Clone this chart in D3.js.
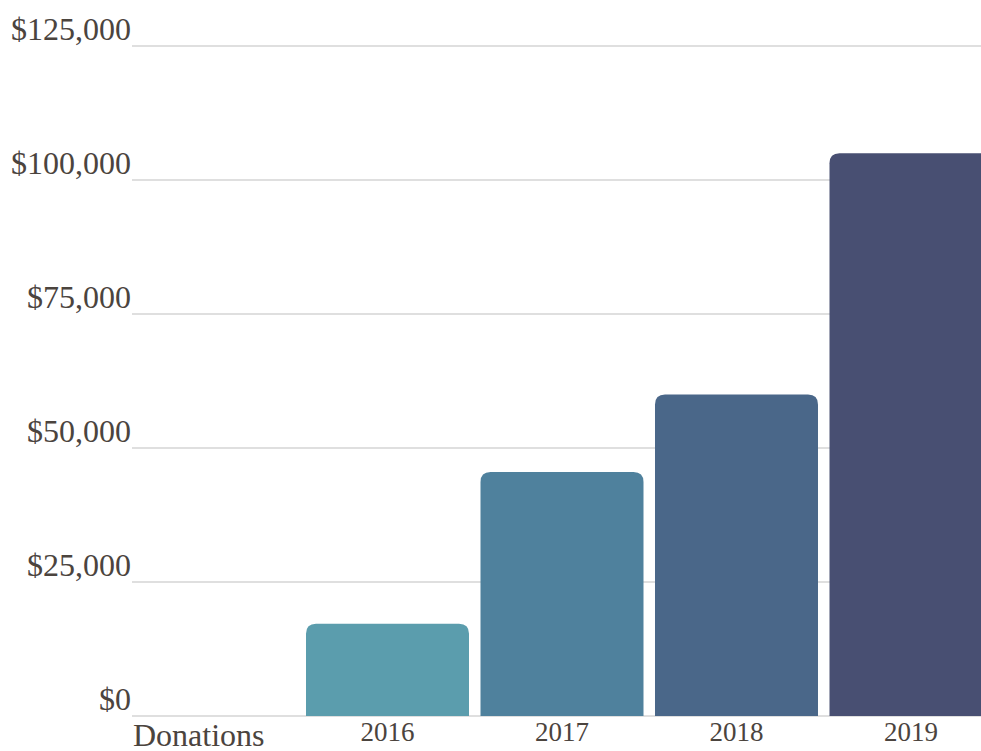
<!DOCTYPE html>
<html>
<head>
<meta charset="utf-8">
<script src="https://cdn.jsdelivr.net/npm/d3@7"></script>
<style>
  body { margin: 0; background: #fff; }
  svg { display: block; font-family: "Liberation Serif", "DejaVu Serif", serif; }
</style>
</head>
<body>
<svg id="chart" width="981" height="751"></svg>
<script>
// data
var years = ['2016', '2017', '2018', '2019'];
var donations = [17200, 45500, 60000, 105000];
var colors = ['#5b9dad', '#4f819d', '#4a6789', '#484f72'];
var yTicks = [0, 25000, 50000, 75000, 100000, 125000];
var title = 'Donations';

var svg = d3.select('#chart');
var textColor = '#4b443e';

var x = d3.scaleBand()
    .domain([title].concat(years))
    .range([125.75, 998.25])
    .paddingInner(0.0659)
    .paddingOuter(0.033);

var y = d3.scaleLinear().domain([0, 125000]).range([716, 46]);

var fmt = function(v) { return '$' + d3.format(',')(v); };

// grid lines
svg.append('g')
  .selectAll('line')
  .data(yTicks)
  .join('line')
    .attr('x1', 132)
    .attr('x2', 981)
    .attr('y1', d => y(d))
    .attr('y2', d => y(d))
    .attr('stroke', '#d4d4d4')
    .attr('stroke-width', 1.5);

// y labels
svg.append('g')
  .selectAll('text')
  .data(yTicks)
  .join('text')
    .attr('x', 131)
    .attr('y', d => y(d) - 6)
    .attr('text-anchor', 'end')
    .attr('fill', textColor)
    .attr('font-size', 32)
    .text(fmt);

// bars with rounded tops
function topRounded(x0, y0, w, h, r) {
  r = Math.min(r, h, w / 2);
  return 'M' + x0 + ',' + (y0 + h) +
    'V' + (y0 + r) +
    'Q' + x0 + ',' + y0 + ' ' + (x0 + r) + ',' + y0 +
    'H' + (x0 + w - r) +
    'Q' + (x0 + w) + ',' + y0 + ' ' + (x0 + w) + ',' + (y0 + r) +
    'V' + (y0 + h) + 'Z';
}

svg.append('g')
  .selectAll('path')
  .data(years)
  .join('path')
    .attr('d', (d, i) => topRounded(x(d), y(donations[i]), x.bandwidth(), y(0) - y(donations[i]), 10))
    .attr('fill', (d, i) => colors[i]);

// x labels
svg.append('g')
  .selectAll('text')
  .data(years)
  .join('text')
    .attr('x', d => x(d) + x.bandwidth() / 2)
    .attr('y', 741)
    .attr('text-anchor', 'middle')
    .attr('fill', textColor)
    .attr('font-size', 27)
    .text(d => d);

svg.append('text')
  .attr('x', x(title) + 1.5)
  .attr('y', 746)
  .attr('fill', textColor)
  .attr('font-size', 32)
  .text(title);
</script>
</body>
</html>
